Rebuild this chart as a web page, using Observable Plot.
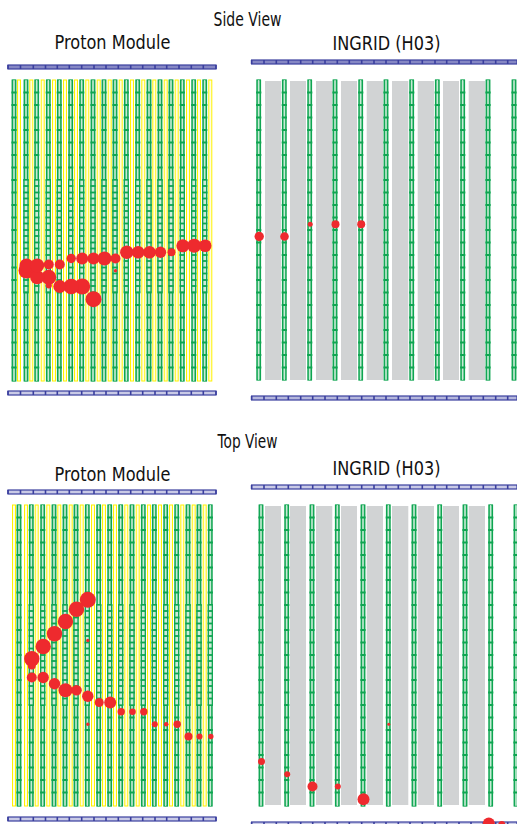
<!DOCTYPE html>
<html><head><meta charset="utf-8">
<script src="https://cdn.jsdelivr.net/npm/d3@7"></script>
<script src="https://cdn.jsdelivr.net/npm/@observablehq/plot@0.6"></script>
<style>html,body{margin:0;padding:0;background:#fff}svg{display:block}</style>
</head><body><div id="chart"></div>
<script>
// Detector layout (page pixel units)
const pmColsA = [14,26,36.7,48.3,59.3,70.7,81.7,93,104,115,126.3,137.7,149,160,171,182.3,193.7,204.7];
const pmColsB = [19,31.3,42.7,54,65,76,87.3,98.7,109.7,120.7,132,143.3,154.3,165.7,176.7,188,199,210.3];
const ingridSideCols = [258.7,284.3,309.7,335,360.7,386,411.7,437.3,462.7,488,514];
const ingridTopCols = [261,286.7,312,337.3,363,388.3,414,439.7,465,490.7,516];
const ironStart = [265,290,316,341,366.7,392,417.7,443,468.7];
const ironEnd = [281,306,332.3,357,383,408.3,434,459,485];
const sideRungs = [92.5,105,117.5,130,142.5,155,167.5,180,192.5,205,217.5,230,242.5,255,267.5,280,292.5,305,317.5,330,342.5,355,367.5];
const topRungs = [517.5,530,542.5,555,567.5,580,592.5,605,617.5,630,642.5,655,667.5,680,692.5,705,717.5,730,742.5,755,767.5,780,792.5];
const sideDense = [186,192.5,198.5,205,211,217.5,223.5,230,236,242.5,248.5,255,261,267.5,273.5,280,286];
const topDense = [611,617.5,623.5,630,636,642.5,648.5,655,661,667.5,673.5,680,686,692.5,698.5];
const pmVetoTicks = [8,20.5,33.3,45.5,57.3,69.3,81.7,94,106,118.3,130.7,142.7,155,166.7,179,191.3,203.3,216];
const ingridVetoTicks = [251.6,264,276.3,288.3,300.7,312.7,325,337.3,349.3,361.7,374,386,398.3,410,422.3,435,446.7,459,471,483.3,495.7,507.7,520];
// Veto planes: left, right, top, bottom
const vetoLeft = [8,251.6,8,251.6,8,251.6,8,251.6];
const vetoRight = [216,517,216,517,216,517,216,517];
const vetoTop = [65,60,391,396,490,485,817,822];
const vetoBottom = [69,64,395,400,494,489,821,826];
const vetoTone = ["#8587c4","#8587c4","#c9cae6","#b4b6dc","#c9cae6","#c9cae6","#c9cae6","#c9cae6"];
// Hits: x, y, charge radius
const hitX = [26,26,36.7,36.7,48.3,48.3,48.3,59.3,70.7,81.7,93,104,115,126.3,137.7,149,160,171,182.3,193.7,204.7,115,59.3,70.7,81.7,93,
  87.3,76,65,54,42.7,31.3,31.3,87.3,31.3,42.7,54,65,76,87.3,98.7,109.7,120.7,132,143.3,154.3,165.7,176.7,188,199,210.3,87.3,
  258.7,284,309.7,335,360.7,
  261,286.7,312,337.3,363,388.3,488.3,501.3];
const hitY = [270,265,276.7,265,276.7,264,285,264,258,258,258,258,258,251.7,251.7,251.7,251.7,251.7,245.3,245.3,245.3,270.3,286,286,286,298.7,
  599.3,608.7,621,633.3,646,658.3,665,640,677,677,683.3,689.7,689.7,695.7,702,702,711.3,711.3,711.3,723.7,723.7,723.7,736,736,736,723.7,
  236,236,223.7,223.7,223.7,
  761,773.7,786,786,798.7,723.7,823,824];
const hitR = [8,7,7,7,7.5,5,3,5,4.7,6,6,7,5,6.7,6.3,6.3,5.7,4,6.5,7,6.3,1.7,6.5,7.7,8,8,
  8,7.7,7.7,7.7,7.7,7.7,4,1.7,5,5.7,5.7,7,5.3,5.7,4.5,6,3.7,3.3,3.7,3,2.3,3.7,4,3,2.7,1.7,
  4.7,4.3,2.5,4,4,
  3.5,3,5,3,6,1.5,6,3.5];
const titles = ["Side View","Proton Module","INGRID (H03)","Top View","Proton Module","INGRID (H03)"];
const titleX = [247,112,386,247,112,386];
const titleY = [19,42,43,441,474,468];
const titleLen = [68,116,108,60,116,108];

const GREEN="#0ea551", GREENFILL="#6fcb96", YELLOW="#fff200", GRAY="#d1d3d4", BLUE="#3a3f9e", RED="#ee2a2e", HALO="#c4e8d3";

const hits = hitX.map((x,i)=>({x,y:hitY[i],r:hitR[i]}));
const bars = (cols,y1,y2)=>cols.map(x=>({x,y1,y2}));
const rungs = (cols,ys)=>cols.flatMap(x=>ys.map(y=>({x,y})));
const vetos = vetoLeft.map((x1,i)=>({x1,x2:vetoRight[i],y1:vetoTop[i],y2:vetoBottom[i],tone:vetoTone[i]}));
const vetoTicks = vetos.flatMap((v,i)=>(i%2?ingridVetoTicks:pmVetoTicks).map(x=>({x,y1:v.y1,y2:v.y2})));

const greenSets = [
  [pmColsA,80,381,sideRungs],[ingridSideCols,80,380,sideRungs],
  [pmColsB,505,806,topRungs],[ingridTopCols,505,806,topRungs]
];
const tube = (d,w,o)=>Plot.rect(d,{x1:t=>t.x-w/2,x2:t=>t.x+w/2,y1:"y1",y2:"y2",...o});
const marks = [];
// iron plates
marks.push(Plot.rect(ironStart.flatMap((s,i)=>[{x1:s,x2:ironEnd[i],y1:81,y2:380},{x1:s,x2:ironEnd[i],y1:506,y2:805}]),
  {x1:"x1",x2:"x2",y1:"y1",y2:"y2",fill:GRAY}));
// yellow scintillator of the proton module
for (const [cols,y1,y2] of [[pmColsB,80,381],[pmColsA,505,806]]) {
  marks.push(tube(bars(cols,y1,y2),3,{fill:"#fffde0",stroke:YELLOW,strokeWidth:1}));
}
// green tracker planes
for (const [cols,y1,y2,ys] of greenSets) {
  marks.push(tube(bars(cols,y1,y2),5,{fill:HALO}));
  marks.push(tube(bars(cols,y1,y2),3.4,{fill:GREENFILL,stroke:GREEN,strokeWidth:1.3}));
  marks.push(tube(bars(cols,y1,y2),0.9,{fill:"#e4f5ea"}));
  marks.push(Plot.rect(rungs(cols,ys),{x1:t=>t.x-2.6,x2:t=>t.x+2.6,y1:t=>t.y-1,y2:t=>t.y+1,fill:GREEN}));
}
// finer central section of the proton module
for (const [cols,y1,y2,ys] of [[pmColsA.slice(1),180,292,sideDense],[pmColsB.slice(1),605,705,topDense]]) {
  marks.push(tube(bars(cols,y1,y2),4,{fill:"#cdebd9",stroke:GREEN,strokeWidth:1.3}));
  marks.push(Plot.rect(rungs(cols,ys),{x1:t=>t.x-2.6,x2:t=>t.x+2.6,y1:t=>t.y-.9,y2:t=>t.y+.9,fill:GREEN}));
}
// veto planes
marks.push(Plot.rect(vetos,{x1:"x1",x2:"x2",y1:"y1",y2:"y2",fill:"tone",stroke:BLUE,strokeWidth:1.2}));
marks.push(Plot.rect(vetoTicks,{x1:t=>t.x-.8,x2:t=>t.x+.8,y1:"y1",y2:"y2",fill:BLUE}));
// hits
marks.push(Plot.dot(hits,{x:"x",y:"y",r:"r",fill:RED,stroke:null}));
// titles
marks.push(Plot.text(titles,{x:(d,i)=>titleX[i],y:(d,i)=>titleY[i],text:d=>d,fontSize:20,fill:"#111",
  fontFamily:"'DejaVu Sans','Noto Sans CJK JP',sans-serif",textAnchor:"middle"}));

const chart = Plot.plot({
  width:517,height:824,margin:0,
  x:{domain:[0,517],range:[0,517],axis:null},
  y:{domain:[0,824],range:[0,824],axis:null},
  r:{type:"identity"},
  color:{type:"identity"},
  style:{background:"#fff"},
  marks
});
chart.querySelectorAll("text").forEach((t,i)=>{
  t.setAttribute("textLength",titleLen[i]);
  t.setAttribute("lengthAdjust","spacingAndGlyphs");
});
document.getElementById("chart").appendChild(chart);
</script></body></html>
